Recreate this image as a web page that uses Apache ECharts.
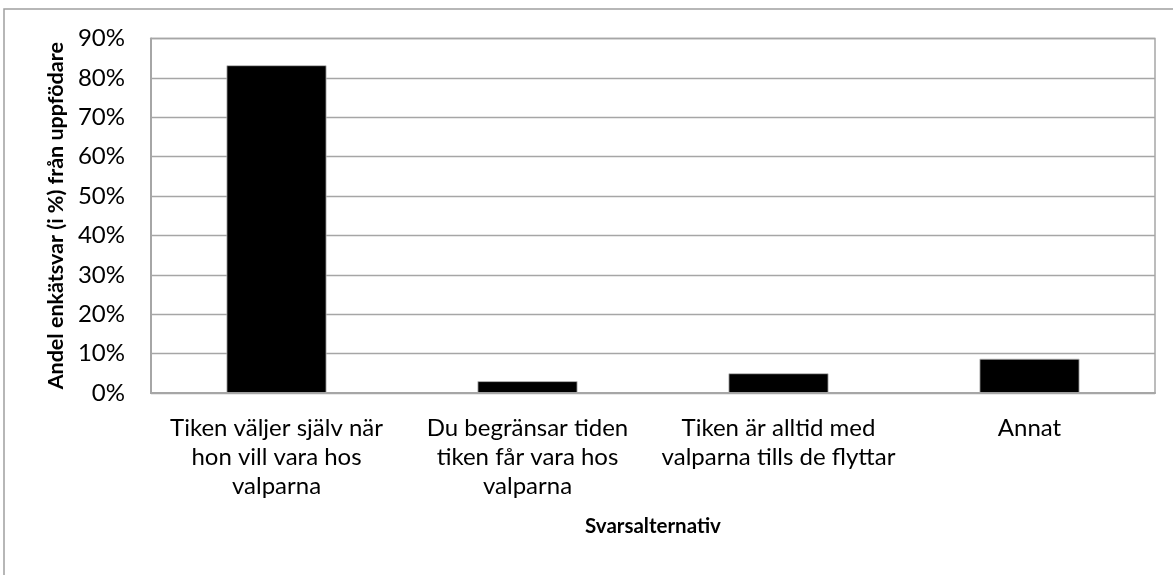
<!DOCTYPE html>
<html>
<head>
<meta charset="utf-8">
<script src="https://cdn.jsdelivr.net/npm/echarts@6/dist/echarts.min.js"></script>
<style>
  html, body { margin: 0; padding: 0; background: #fff; }
  #chart { width: 1173px; height: 575px; }
</style>
</head>
<body>
<div id="chart"></div>
<script>
const categories = [
  'Tiken väljer själv när\nhon vill vara hos\nvalparna',
  'Du begränsar tiden\ntiken får vara hos\nvalparna',
  'Tiken är alltid med\nvalparna tills de flyttar',
  'Annat'
];
const shares = [83.2, 3.0, 5.0, 8.7];
const yTitle = 'Andel enkätsvar (i %) från uppfödare';
const xTitle = 'Svarsalternativ';

const chart = echarts.init(document.getElementById('chart'));
const font = 'Lato, "Open Sans", sans-serif';
const gridGrey = '#a6a6a6';

chart.setOption({
  animation: false,
  backgroundColor: '#fff',
  textStyle: { fontFamily: font },
  graphic: [
    {
      type: 'polyline',
      shape: { points: [[4, 575], [4, 9], [1173, 9]] },
      style: { stroke: '#a0a0a0', lineWidth: 1.5, fill: null }
    }
  ],
  grid: {
    left: 151,
    right: 18,
    top: 38.5,
    bottom: 182,
    show: true,
    borderColor: gridGrey,
    borderWidth: 1.5,
    containLabel: false
  },
  xAxis: {
    type: 'category',
    data: categories,
    name: xTitle,
    nameLocation: 'middle',
    nameGap: 123,
    nameTextStyle: { color: '#000', fontSize: 20.5, fontWeight: 'bold', fontFamily: font },
    axisLine: { show: true, lineStyle: { color: gridGrey, width: 2 } },
    axisTick: { show: false },
    axisLabel: {
      color: '#000',
      fontSize: 24,
      fontFamily: font,
      margin: 21,
      lineHeight: 29,
      interval: 0
    }
  },
  yAxis: {
    type: 'value',
    min: 0,
    max: 90,
    interval: 10,
    name: yTitle,
    nameLocation: 'middle',
    nameRotate: 90,
    nameGap: 84,
    nameTextStyle: { color: '#000', fontSize: 21.5, fontWeight: 'bold', fontFamily: font },
    axisLine: { show: true, lineStyle: { color: gridGrey, width: 2 } },
    axisTick: { show: false },
    axisLabel: {
      color: '#000',
      fontSize: 24,
      fontFamily: font,
      margin: 26,
      formatter: '{value}%'
    },
    splitLine: { show: true, lineStyle: { color: gridGrey, width: 1.3 } }
  },
  series: [
    {
      type: 'bar',
      data: shares,
      barWidth: 100,
      itemStyle: { color: '#000', borderColor: '#bfbfbf', borderWidth: 0.8 }
    }
  ]
});
</script>
</body>
</html>
